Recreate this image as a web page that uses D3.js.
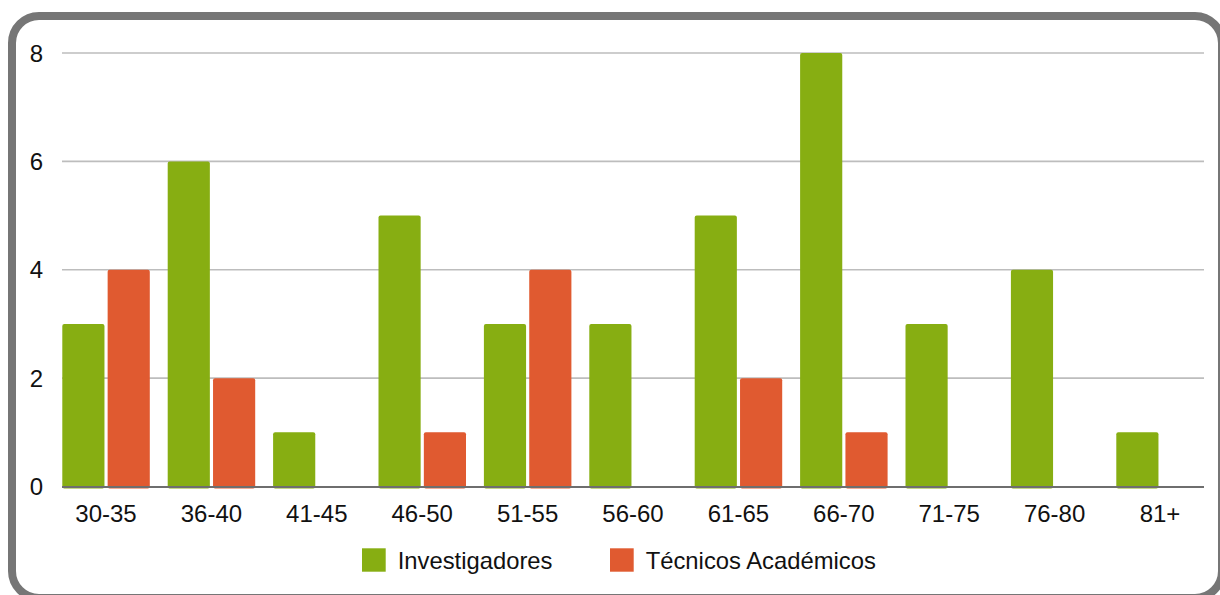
<!DOCTYPE html>
<html><head><meta charset="utf-8">
<script src="https://cdn.jsdelivr.net/npm/d3@7"></script>
<style>html,body{margin:0;padding:0;background:#fff;overflow:hidden}svg{display:block}</style>
</head><body>
<svg id="c" width="1220" height="595"></svg>
<script>
const categories = ["30-35","36-40","41-45","46-50","51-55","56-60","61-65","66-70","71-75","76-80","81+"];
const investigadores = [3,6,1,5,3,3,5,8,3,4,1];
const tecnicos = [4,2,0,1,4,0,2,1,0,0,0];
const seriesNames = ["Investigadores","Técnicos Académicos"];
const seriesColors = ["#87ae12","#e05a30"];
const yTicks = [0,2,4,6,8];

const svg = d3.select("#c");
const font = "'Liberation Sans', Arial, sans-serif";

svg.append("rect").attr("x",12).attr("y",16).attr("width",1210).attr("height",582)
  .attr("rx",27).attr("fill","#fff").attr("stroke","#767676").attr("stroke-width",8);

const x = d3.scaleBand().domain(categories).range([53.3,1212.7]).padding(0);
const xi = d3.scaleBand().domain(seriesNames).range([9,96.5]).paddingInner(0.07).paddingOuter(0);
const y = d3.scaleLinear().domain([0,8]).range([486.5,53]);

const plotL = 62, plotR = 1204;
svg.append("g").selectAll("line").data(yTicks.filter(d=>d>0)).join("line")
  .attr("x1",plotL).attr("x2",plotR).attr("y1",d=>y(d)).attr("y2",d=>y(d))
  .attr("stroke","#bdbdbd").attr("stroke-width",1.6);

svg.append("g").selectAll("text").data(yTicks).join("text")
  .attr("x",43).attr("y",d=>y(d)+8.5).attr("text-anchor","end")
  .attr("font-family",font).attr("font-size",24).attr("fill","#111").text(d=>d);

const data = categories.map((c,i)=>({c, vals:[investigadores[i], tecnicos[i]]}));
const g = svg.append("g");
data.forEach(d=>{
  d.vals.forEach((v,j)=>{
    if(v<=0) return;
    g.append("rect")
      .attr("x", x(d.c)+xi(seriesNames[j]))
      .attr("y", y(v))
      .attr("width", xi.bandwidth())
      .attr("height", y(0)-y(v)+2)
      .attr("rx",2)
      .attr("fill", seriesColors[j]);
  });
});

svg.append("line").attr("x1",plotL).attr("x2",plotR).attr("y1",y(0)+0.5).attr("y2",y(0)+0.5)
  .attr("stroke","#6e6e6e").attr("stroke-width",2);

svg.append("g").selectAll("text").data(categories).join("text")
  .attr("x",d=>x(d)+x.bandwidth()/2).attr("y",522.3).attr("text-anchor","middle")
  .attr("font-family",font).attr("font-size",24).attr("fill","#111").text(d=>d);

const legX = [362, 610];
const lg = svg.append("g");
seriesNames.forEach((n,i)=>{
  lg.append("rect").attr("x",legX[i]).attr("y",548.3).attr("width",23.7).attr("height",23.4).attr("fill",seriesColors[i]);
  lg.append("text").attr("x",legX[i]+35.7).attr("y",568.5).attr("font-family",font).attr("font-size",23.8)
    .attr("fill","#111").text(n);
});
</script>
</body></html>
